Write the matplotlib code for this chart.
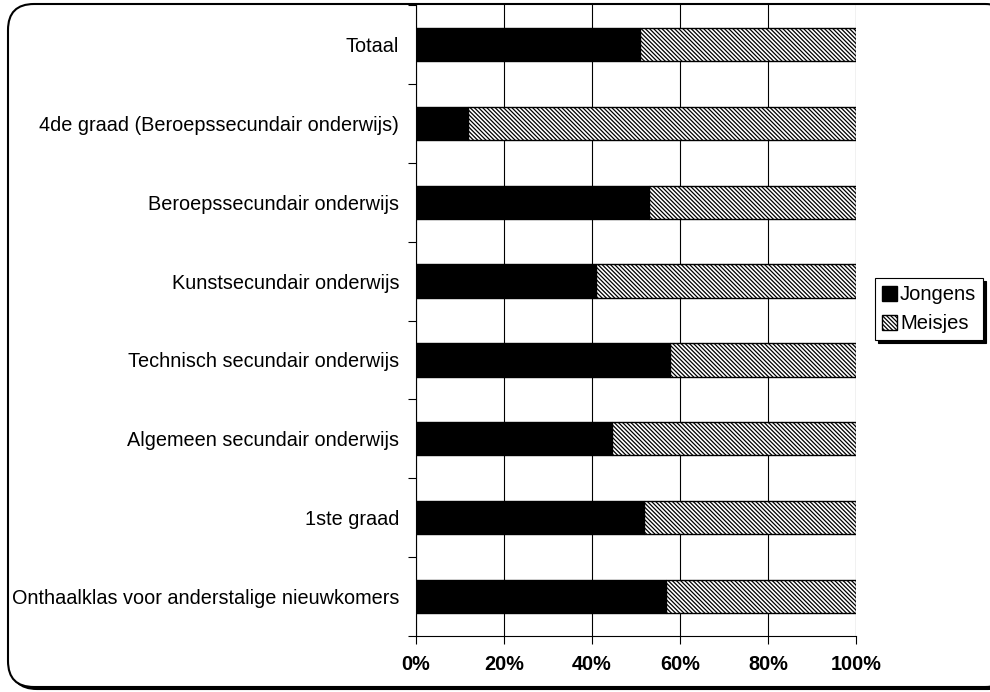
import numpy as np
import matplotlib
matplotlib.use("Agg")
import matplotlib.pyplot as plt
from matplotlib.patches import FancyBboxPatch
from matplotlib.transforms import IdentityTransform
from matplotlib.ticker import FuncFormatter, FixedLocator

plt.rcParams['font.family'] = ['Liberation Sans', 'DejaVu Sans']
plt.rcParams['hatch.linewidth'] = 0.9

# categories from bottom to top
categories = [
    "Onthaalklas voor anderstalige nieuwkomers",
    "1ste graad",
    "Algemeen secundair onderwijs",
    "Technisch secundair onderwijs",
    "Kunstsecundair onderwijs",
    "Beroepssecundair onderwijs",
    "4de graad (Beroepssecundair onderwijs)",
    "Totaal",
]
jongens = [56.8, 51.8, 44.6, 57.7, 41.0, 53.0, 11.8, 50.9]
meisjes = [100 - v for v in jongens]

W, H = 990, 692
fig = plt.figure(figsize=(W / 100, H / 100), dpi=100)

# rounded chart border with shadow (pixel coords, origin bottom-left)
shadow = FancyBboxPatch((11, 3), 1003, 683,
                        boxstyle="round,pad=0,rounding_size=26",
                        transform=IdentityTransform(), facecolor="black",
                        edgecolor="black", linewidth=1.5, zorder=-2)
border = FancyBboxPatch((8, 5), 1003, 683,
                        boxstyle="round,pad=0,rounding_size=26",
                        transform=IdentityTransform(), facecolor="white",
                        edgecolor="black", linewidth=1.5, zorder=-1)
fig.patches.extend([shadow, border])

ax = fig.add_axes([416 / W, (H - 636) / H, 440 / W, 631 / H])
ax.patch.set_alpha(0)

y = np.arange(len(categories))
ax.barh(y, jongens, height=0.42, color="black", edgecolor="black",
        linewidth=1, label="Jongens", zorder=3)
ax.barh(y, meisjes, left=jongens, height=0.42, color="white",
        edgecolor="black", hatch="\\\\\\\\\\\\\\\\", linewidth=1,
        label="Meisjes", zorder=3)

ax.set_xlim(0, 100)
ax.set_ylim(-0.5, len(categories) - 0.5)
ax.set_xticks(np.arange(0, 101, 20))
ax.xaxis.set_major_formatter(FuncFormatter(lambda v, p: f"{v:.0f}%"))
ax.set_yticks(y)
ax.set_yticklabels(categories, fontsize=14.3)
ax.tick_params(axis="y", length=0, pad=12)
ax.yaxis.set_minor_locator(FixedLocator(np.arange(-0.5, len(categories), 1)))
ax.tick_params(axis="y", which="minor", length=6, width=0.8)
ax.tick_params(axis="x", length=6, width=0.8, pad=8, labelsize=14.3)
for lab in ax.get_xticklabels():
    lab.set_fontweight("bold")

ax.grid(axis="x", color="black", linewidth=0.8, zorder=0)
ax.set_axisbelow(True)
ax.spines["top"].set_visible(False)
ax.spines["right"].set_visible(False)
for s in ["left", "bottom"]:
    ax.spines[s].set_linewidth(0.8)

leg = ax.legend(loc="upper left", bbox_to_anchor=(1.043, 0.567), fontsize=14.5,
                frameon=True, fancybox=False, shadow={"color": "black", "alpha": 1},
                handlelength=0.75, handleheight=0.75, handletextpad=0.15,
                borderpad=0.35, labelspacing=0.5, borderaxespad=0)
leg.get_frame().set_edgecolor("black")
leg.get_frame().set_linewidth(0.8)

fig.savefig("out.png", dpi=100)
